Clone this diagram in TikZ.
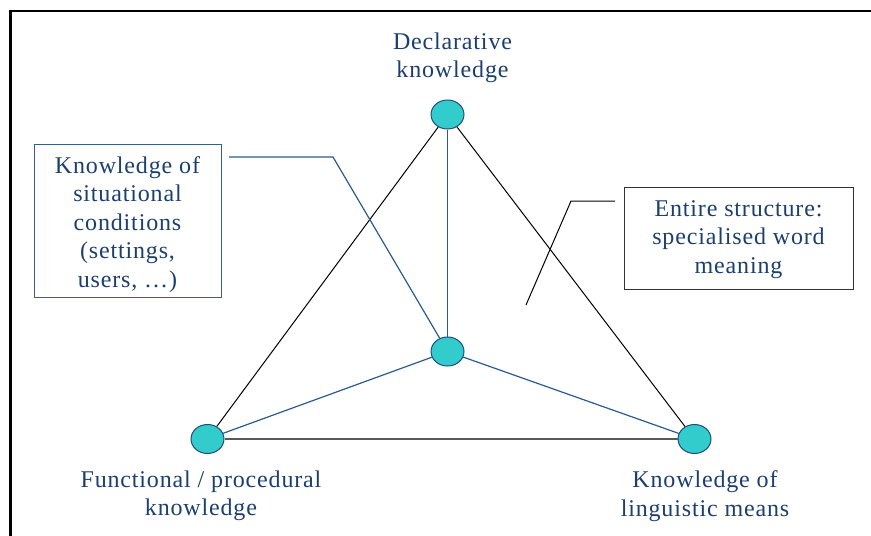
\documentclass[tikz,border=0pt]{standalone}
\usepackage{fontspec}
\setmainfont{Liberation Serif}[LetterSpace=3.5]
\usetikzlibrary{shapes.geometric}
\definecolor{txtblue}{HTML}{1B3F6E}
\definecolor{lineblue}{HTML}{2A5A8E}
\definecolor{boxblue}{HTML}{3A5F8C}
\definecolor{dotfill}{HTML}{33CCCC}
\definecolor{dotedge}{HTML}{1F4E79}
\tikzset{
  dot/.style={ellipse, draw=dotedge, line width=1pt, fill=dotfill, minimum width=33pt, minimum height=29pt, inner sep=0pt},
  lbl/.style={text=txtblue, align=center, font=\fontsize{24}{28.5}\selectfont, inner sep=0pt},
  boxed/.style={draw, line width=0.9pt, inner sep=0pt},
  blk/.style={draw=black, line width=1pt},
  blu/.style={draw=lineblue, line width=1.2pt},
  gry/.style={draw=black!65, line width=1.8pt},
  frame/.style={draw=black, line width=2.5pt}
}
\begin{document}
\begin{tikzpicture}[x=1pt,y=-1pt]
\useasboundingbox (0,0) rectangle (871,536);
\draw[frame] (10.5,537) -- (10.5,11) -- (872,11);

\node[dot] (top) at (447.5,114.5) {};
\node[dot] (ctr) at (447.5,351.5) {};
\node[dot] (lft) at (207.5,439) {};
\node[dot] (rgt) at (694.5,439) {};

\draw[blk] (top) -- (lft);
\draw[blk] (top) -- (rgt);
\draw[gry] (lft) -- (rgt);
\draw[blu] (top) -- (ctr);
\draw[blu] (ctr) -- (lft);
\draw[blu] (ctr) -- (rgt);

\node[lbl] (tdecl) at (452.5,58) {Declarative\\knowledge};
\node[lbl] (tfunc) at (201,496) {Functional / procedural\\knowledge};
\node[lbl] (tling) at (705,496) {Knowledge of\\linguistic means};

\node[boxed, draw=boxblue, minimum width=187pt, minimum height=153pt] (sit) at (127.5,220.5) {};
\node[lbl] (sittxt) at (127.5,224.5)
  {Knowledge of\\situational\\conditions\\(settings,\\users, \ldots)};
\node[boxed, draw=black!80, minimum width=229pt, minimum height=102pt] (ent) at (738.5,238) {};
\node[lbl] (enttxt) at (738.5,239.5)
  {Entire structure:\\specialised word\\meaning};

\coordinate (sa) at (229,157);
\coordinate (sb) at (333,157);
\draw[blu] (sa) -- (sb) -- (ctr);

\coordinate (ea) at (615,201);
\coordinate (eb) at (571,201);
\coordinate (ec) at (526,305);
\draw[blk] (ea) -- (eb) -- (ec);
\end{tikzpicture}
\end{document}
